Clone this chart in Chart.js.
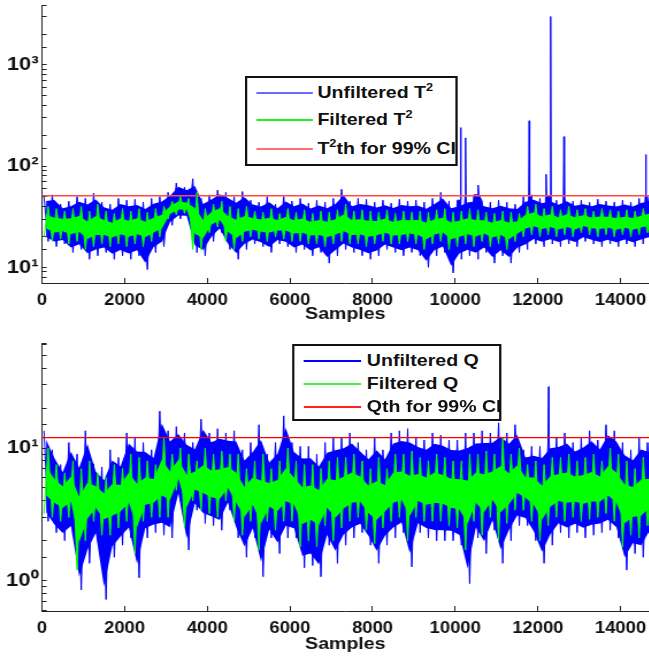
<!DOCTYPE html>
<html>
<head>
<meta charset="utf-8">
<script src="https://cdn.jsdelivr.net/npm/chart.js@4.4.1/dist/chart.umd.min.js"></script>
<style>
  body { margin: 0; background: #fff; overflow: hidden; }
  /* the original figure is stretched sideways, so draw narrow and stretch */
  #wrap { position: absolute; left: 0; top: 0; width: 564px; height: 656px; transform: scaleX(1.15); transform-origin: 0 0; }
  #wrap canvas { position: absolute; left: 0; }
  .legend { position: absolute; box-sizing: border-box; border: 2px solid #111; background: #fff;
            font: bold 17px "Liberation Sans", Arial, sans-serif; color: #111; }
  .legend .row { position: absolute; left: 0; right: 0; height: 20px; }
  .legend .swatch { position: absolute; top: 9px; height: 2px; }
  .legend .label { position: absolute; top: 0; white-space: nowrap; line-height: 20px; }
  .legend sup { font-size: 11px; vertical-align: 7px; line-height: 0; }
</style>
</head>
<body>
<div id="wrap">
  <canvas id="t2-chart" width="564" height="330" style="top:0"></canvas>
  <canvas id="q-chart" width="564" height="326" style="top:330px"></canvas>
  <div id="t2-legend" class="legend" style="left:213px;top:76px;width:185px;height:90px"></div>
  <div id="q-legend" class="legend" style="left:254px;top:344px;width:182px;height:77px"></div>
</div>
<script>
// every value is the highest / lowest reading inside one 200-sample bin
const binSize = 200;
const xMax = 14680;
const xTickValues = [0, 2000, 4000, 6000, 8000, 10000, 12000, 14000];

// T^2 statistic
const t2BlueHi = [50, 52, 42, 45, 50, 48, 54, 44, 42, 48,
  46, 47, 44, 48, 50, 55, 68, 62, 75, 48,
  52, 58, 55, 50, 56, 46, 44, 50, 42, 50,
  45, 48, 43, 46, 44, 48, 59, 45, 48, 47,
  44, 46, 43, 47, 45, 46, 44, 48, 55, 45,
  46, 50, 52, 45, 44, 46, 44, 42, 50, 52,
  48, 50, 46, 50, 45, 46, 44, 47, 45, 44,
  46, 44, 48, 50];
const t2BlueLo = [18, 16, 17, 14, 15, 12, 13, 14, 12, 13,
  12, 13, 9.5, 14, 16, 26, 30, 30, 14, 13,
  18, 22, 15, 12, 15, 17, 16, 14, 17, 16,
  14, 15, 13, 14, 11, 13, 15, 14, 13, 12,
  13, 15, 14, 13, 14, 13, 10, 13, 14, 8.8,
  12, 13, 12, 14, 11, 13, 11, 14, 15, 17,
  16, 17, 16, 17, 16, 18, 17, 16, 17, 16,
  17, 16, 17, 18];
const t2GreenHi = [40, 38, 36, 38, 40, 36, 42, 36, 34, 38,
  36, 38, 35, 38, 40, 45, 50, 48, 55, 38,
  42, 45, 40, 38, 40, 36, 35, 38, 34, 38,
  35, 37, 34, 36, 35, 37, 42, 36, 37, 36,
  35, 37, 34, 36, 35, 36, 35, 37, 38, 35,
  36, 38, 37, 35, 34, 36, 35, 34, 40, 42,
  38, 40, 37, 40, 37, 38, 36, 38, 37, 36,
  37, 36, 38, 40];
const t2GreenLo = [20, 18, 19, 17, 18, 15, 16, 17, 16, 17,
  16, 17, 16, 18, 20, 30, 33, 34, 15, 15,
  22, 25, 18, 15, 18, 20, 19, 18, 20, 19,
  18, 18, 17, 17, 16, 17, 18, 17, 17, 16,
  17, 18, 17, 17, 18, 17, 15, 17, 18, 15,
  16, 17, 16, 18, 16, 17, 15, 18, 20, 21,
  20, 21, 20, 21, 20, 22, 21, 20, 21, 20,
  21, 20, 21, 22];
const t2SpikeAt = [10130, 10250, 10560, 11790, 12200, 12310, 12630, 14610];
const t2SpikeVal = [240, 190, 65, 280, 83, 3000, 195, 130];
const t2Limit = 51;
const t2TickValues = [10, 100, 1000];
const t2TickLabels = ['10¹', '10²', '10³'];
const t2Names = ['Unfiltered T<sup>2</sup>', 'Filtered T<sup>2</sup>', 'T<sup>2</sup>th for 99% CI'];

// Q statistic
const qBlueHi = [13.5, 9.7, 7.5, 11, 9, 13.5, 7.6, 7.2, 9.7, 8.5,
  13, 12, 11, 9.7, 19, 13.5, 14.5, 13, 11, 16.5,
  13, 14, 13, 13.5, 9.7, 11, 15, 9, 11, 17.5,
  11, 10.3, 10.3, 9, 11, 12, 12, 13, 11, 9.7,
  12, 9.7, 13, 13.5, 14, 12, 11.5, 13, 12.5, 11.5,
  11.5, 13, 13, 13.5, 13, 15.5, 13, 15, 9.7, 10.3,
  10.3, 12, 12, 13, 11, 12, 13.5, 11.5, 15, 13.5,
  11, 9.7, 12, 11];
const qBlueLo = [2.8, 2.3, 2.0, 2.2, 0.85, 1.35, 2.0, 0.72, 1.5, 1.85,
  2.1, 1.05, 2.1, 2.3, 2.2, 2.1, 4.0, 1.7, 3.4, 2.7,
  2.6, 2.4, 3.4, 2.1, 1.5, 2.1, 1.07, 2.1, 1.6, 2.1,
  2.1, 1.25, 1.3, 1.07, 1.85, 1.35, 1.85, 2.1, 2.3, 1.85,
  1.35, 1.85, 2.1, 2.3, 1.27, 2.3, 2.1, 2.0, 2.0, 2.0,
  1.85, 0.95, 2.1, 1.6, 2.4, 1.35, 2.0, 2.6, 2.6, 2.0,
  1.35, 1.85, 2.3, 2.1, 2.3, 2.1, 2.2, 2.3, 2.4, 2.1,
  1.2, 1.6, 1.5, 2.0];
const qGreenHi = [10, 7.5, 6.5, 8, 7, 8, 6.5, 6, 7.5, 7,
  9, 8.5, 8, 7.5, 12, 9, 10, 9, 8, 10,
  9, 9.5, 9, 9, 7, 8, 9, 7, 8, 10,
  8, 7.5, 7.5, 7, 8, 8.5, 8.5, 9, 8, 7,
  8.5, 7, 9, 9, 9.5, 8.5, 8, 9, 8.5, 8,
  8, 9, 9, 9.5, 9, 12, 9, 10, 7.5, 8,
  7.5, 8.5, 8.5, 9, 8, 8.5, 9, 8, 10, 9,
  8, 7, 8.5, 8];
const qGreenLo = [3.2, 3.0, 2.8, 3.0, 1.2, 2.0, 2.8, 2.2, 2.2, 2.5,
  2.8, 1.6, 2.8, 3.0, 3.0, 3.0, 4.8, 2.5, 4.0, 3.4,
  3.2, 3.0, 4.0, 2.8, 2.2, 2.8, 1.7, 2.8, 2.4, 2.8,
  2.8, 1.8, 2.0, 1.8, 2.6, 2.0, 2.5, 2.8, 3.0, 2.4,
  1.9, 2.5, 2.8, 3.0, 2.0, 3.0, 2.8, 2.8, 2.8, 2.6,
  2.5, 1.7, 2.8, 2.2, 3.0, 2.0, 2.7, 3.4, 3.4, 2.8,
  2.0, 2.6, 3.0, 2.8, 3.0, 2.8, 2.9, 3.0, 3.2, 2.8,
  1.8, 2.2, 2.1, 2.6];
const qSpikeAt = [12260];
const qSpikeVal = [29];
const qLimit = 12;
const qTickValues = [1, 10];
const qTickLabels = ['10⁰', '10¹'];
const qNames = ['Unfiltered Q', 'Filtered Q', 'Qth for 99% CI'];

const axisColor = '#222';
const fontFamily = '"Liberation Sans", Arial, sans-serif';
// share of each band (log units) that is painted solid; the rest is left to the spikes
const blueCore = 0.8;
const greenCore = 0.45;

// noisy trace: runs up to each bin's high and down to its low, with thin spikes added
function zigzag(hi, lo, hiOffset, loOffset, spikeAt, spikeVal) {
  const pts = [];
  hi.forEach((h, i) => {
    pts.push({ x: i * binSize + hiOffset, y: h });
    pts.push({ x: i * binSize + loOffset, y: lo[i] });
  });
  spikeAt.forEach((s, k) => {
    const base = hi[Math.floor(s / binSize)];
    pts.push({ x: s - 12, y: base }, { x: s, y: spikeVal[k] }, { x: s + 12, y: base });
  });
  return pts.sort((a, b) => a.x - b.x);
}

// point per bin between the bin's low and high (t = 0 low, 0.5 middle, 1 high, log axis)
function between(hi, lo, t) {
  return hi.map((h, i) => ({ x: i * binSize + binSize / 2, y: lo[i] * Math.pow(h / lo[i], t) }));
}

function buildLegend(id, names, colors, rowTops, swatchLeft, swatchWidth, textLeft) {
  const box = document.getElementById(id);
  names.forEach((name, i) => {
    const row = document.createElement('div');
    row.className = 'row';
    row.style.top = rowTops[i] + 'px';
    row.innerHTML = '<span class="swatch" style="left:' + swatchLeft + 'px;width:' + swatchWidth +
      'px;background:' + colors[i] + '"></span><span class="label" style="left:' + textLeft + 'px">' + name + '</span>';
    box.appendChild(row);
  });
}

// trace + its solid core; returns 4 datasets, the first is filled towards the second
function bandDatasets(hi, lo, core, color, hiOffset, loOffset, spikeAt, spikeVal, firstIndex) {
  const hidden = { borderWidth: 0, borderColor: 'rgba(0,0,0,0)', backgroundColor: 'rgba(0,0,0,0)' };
  const edge = (1 - core) / 2;
  return [
    { data: zigzag(hi, lo, hiOffset, loOffset, spikeAt, spikeVal), borderColor: color, borderWidth: 1,
      fill: firstIndex + 1, backgroundColor: color },
    { data: between(hi, lo, 0.5), ...hidden },
    { data: between(hi, lo, 1 - edge), ...hidden },
    { data: between(hi, lo, edge), ...hidden, fill: '-1', backgroundColor: color },
  ];
}

function makeChart(canvasId, cfg) {
  const ctx = document.getElementById(canvasId).getContext('2d');
  // eslint-disable-next-line no-undef,no-unused-vars
  const chart = new Chart(ctx, {
    type: 'line',
    data: {
      // first dataset is painted last, so the limit line ends up on top
      datasets: [
        { data: [{ x: 0, y: cfg.limit }, { x: xMax, y: cfg.limit }], borderColor: cfg.colors[2], borderWidth: cfg.limitWidth },
        ...bandDatasets(cfg.greenHi, cfg.greenLo, greenCore, cfg.colors[1], 150, 50, [], [], 1),
        ...bandDatasets(cfg.blueHi, cfg.blueLo, blueCore, cfg.colors[0], 50, 150, cfg.spikeAt, cfg.spikeVal, 5),
      ],
    },
    options: {
      responsive: false,
      animation: false,
      events: [],
      parsing: false,
      layout: { padding: { top: cfg.padTop, right: 0, bottom: 0, left: 0 } },
      plugins: { legend: { display: false }, tooltip: { enabled: false } },
      elements: { point: { radius: 0 }, line: { tension: 0 } },
      scales: {
        x: {
          type: 'linear',
          min: 0,
          max: xMax,
          afterFit: (s) => { s.height = cfg.xAxisHeight; s.paddingLeft = 0; s.paddingRight = 0; },
          afterBuildTicks: (s) => { s.ticks = xTickValues.map((v) => ({ value: v })); },
          border: { color: axisColor, width: 1 },
          grid: { drawOnChartArea: false, drawTicks: true, tickLength: -5, color: axisColor },
          ticks: {
            autoSkip: false, maxRotation: 0, minRotation: 0,
            padding: 13, color: '#111', font: { family: fontFamily, size: 16, weight: 'bold' },
            callback: (v) => String(v),
          },
          title: {
            display: true, text: 'Samples', color: '#111',
            font: { family: fontFamily, size: 17, weight: 'bold' },
            padding: { top: 0, bottom: cfg.titlePad },
          },
        },
        y: {
          type: 'logarithmic',
          min: cfg.yMin,
          max: cfg.yMax,
          afterFit: (s) => { s.width = 36.5; s.paddingTop = 0; s.paddingBottom = 0; },
          border: { color: axisColor, width: 1 },
          grid: { drawOnChartArea: false, drawTicks: true, tickLength: -4, color: axisColor },
          ticks: {
            autoSkip: false, padding: 7, color: '#111',
            font: { family: fontFamily, size: 19, weight: 'bold' },
            callback: (v) => {
              const k = cfg.tickValues.findIndex((t) => Math.abs(t - v) < 1e-9 * t);
              return k < 0 ? '' : cfg.tickLabels[k];
            },
          },
        },
      },
    },
  });
}

const t2Colors = ['#0000ff', '#00ff00', '#ff4a4a'];
const qColors = ['#0000ff', '#00ff00', '#ff0000'];

makeChart('t2-chart', {
  blueHi: t2BlueHi, blueLo: t2BlueLo, greenHi: t2GreenHi, greenLo: t2GreenLo,
  spikeAt: t2SpikeAt, spikeVal: t2SpikeVal, limit: t2Limit, limitWidth: 1.6, colors: t2Colors,
  tickValues: t2TickValues, tickLabels: t2TickLabels,
  yMin: 7, yMax: 3900, padTop: 5, xAxisHeight: 47, titlePad: 5,
});
makeChart('q-chart', {
  blueHi: qBlueHi, blueLo: qBlueLo, greenHi: qGreenHi, greenLo: qGreenLo,
  spikeAt: qSpikeAt, spikeVal: qSpikeVal, limit: qLimit, limitWidth: 1.2, colors: qColors,
  tickValues: qTickValues, tickLabels: qTickLabels,
  yMin: 0.59, yMax: 62, padTop: 13, xAxisHeight: 45, titlePad: 1,
});

buildLegend('t2-legend', t2Names, ['#6a6aff', '#22ee22', '#ff7070'], [5, 32, 61], 8, 49, 61);
buildLegend('q-legend', qNames, ['#0000ff', '#44ee44', '#ff2020'], [5, 28, 51], 8, 50, 63);
</script>
</body>
</html>
